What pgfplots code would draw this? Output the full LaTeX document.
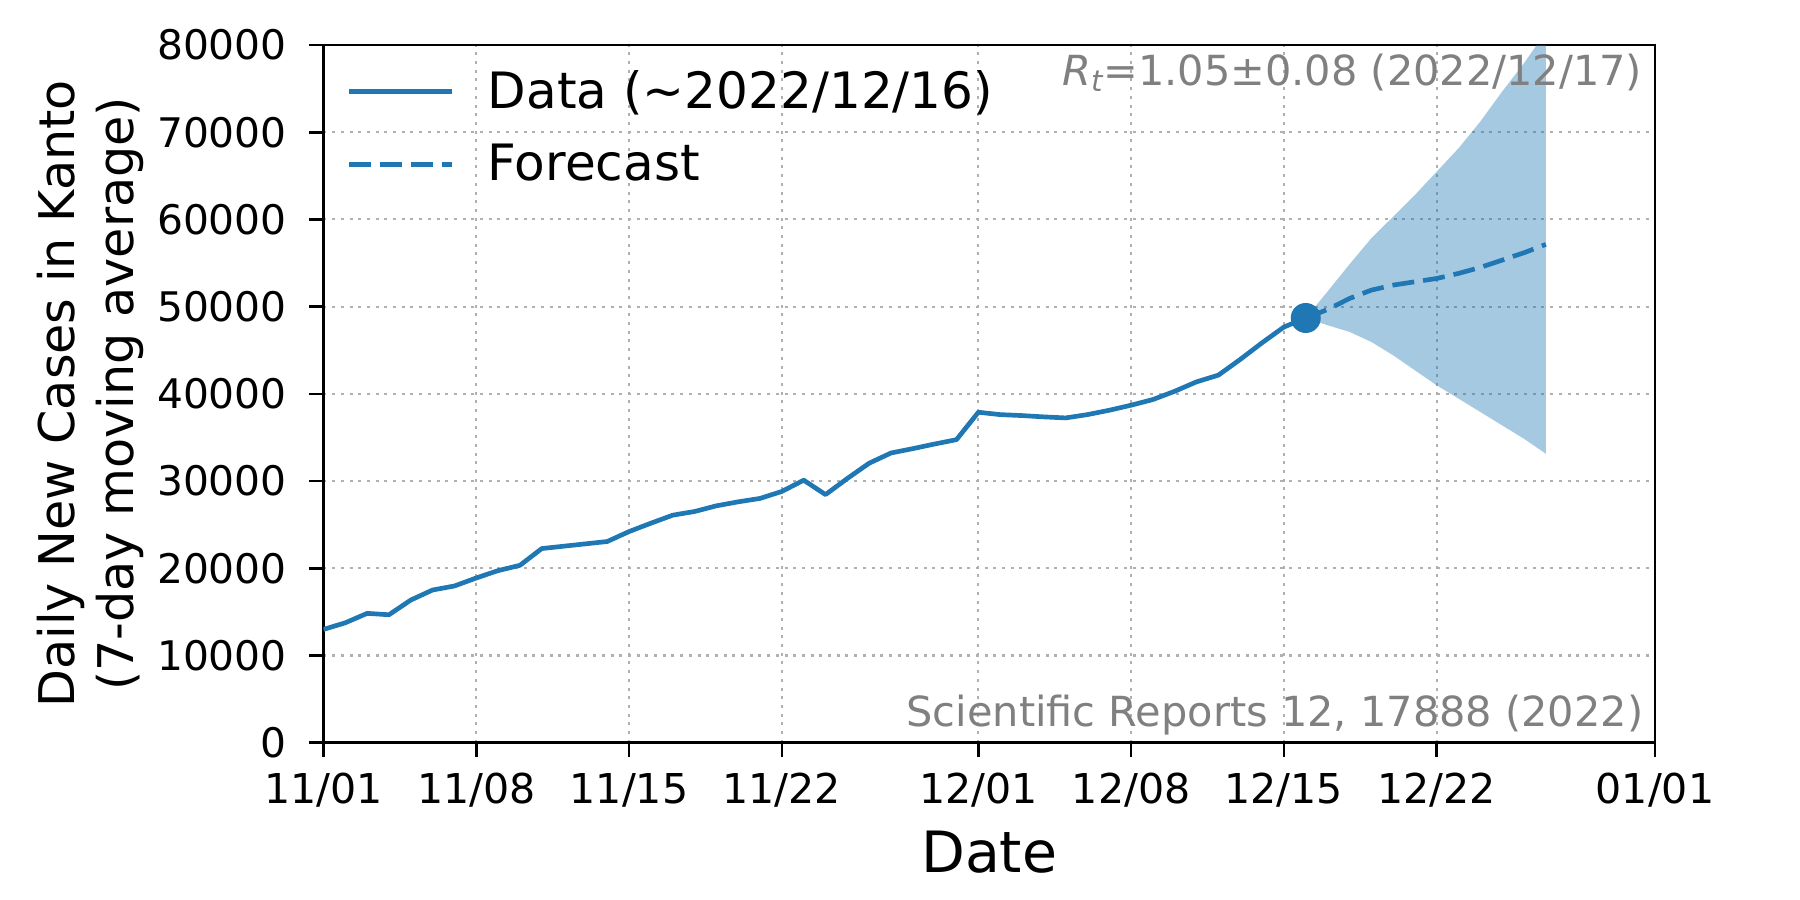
\documentclass[border=0pt]{standalone}
\usepackage{fontspec}
\setmainfont{DejaVu Sans}
\usepackage{pgfplots}
\pgfplotsset{compat=1.18}
\definecolor{tabblue}{HTML}{1F77B4}
\definecolor{gridgray}{RGB}{176,176,176}
\definecolor{annot}{RGB}{128,128,128}
\begin{document}
\begin{tikzpicture}
\useasboundingbox (-3.235cm,-1.573cm) rectangle (14.765cm,7.427cm);
\begin{axis}[
  scale only axis,
  width=13.315cm, height=6.977cm,
  xmin=0, xmax=61, ymin=0, ymax=80000,
  scaled y ticks=false,
  xtick={0,7,14,21,30,37,44,51,61},
  xticklabels={11/01,11/08,11/15,11/22,12/01,12/08,12/15,12/22,01/01},
  ytick={0,10000,20000,30000,40000,50000,60000,70000,80000},
  yticklabels={0,10000,20000,30000,40000,50000,60000,70000,80000},
  xtick pos=bottom, ytick pos=left,
  tick align=outside,
  major tick length=1.4mm,
  tick style={black, line width=0.77pt},
  axis line style={black, line width=0.77pt},
  grid=major,
  major grid style={gridgray, line width=0.6pt, dash pattern=on 0.3mm off 0.57mm},
  xticklabel style={font=\fontsize{11.7}{14}\selectfont, anchor=base, inner sep=0pt, yshift=-4.7mm},
  yticklabel style={font=\fontsize{11.6}{14}\selectfont, anchor=east, inner sep=0pt, xshift=-2.2mm},
  xlabel={Date},
  xlabel style={font=\fontsize{16.2}{19}\selectfont, at={(rel axis cs:0.5,0)}, anchor=base, yshift=-12.98mm},
  ylabel={Daily New Cases in Kanto\\(7-day moving average)},
  ylabel style={font=\fontsize{14}{16.8}\selectfont, align=center, at={(rel axis cs:0,0.5)}, anchor=center, rotate=0, yshift=23.35mm},
  legend style={at={(rel axis cs:0,1)}, anchor=north west, xshift=2.25mm, yshift=-1.73mm, draw=none, fill=none,
    font=\fontsize{14.25}{17}\selectfont, row sep=1.63mm, column sep=2.65mm, inner sep=0pt},
  legend cell align=left,
  legend image code/.code={\draw[#1] (0cm,0cm) -- (1.03cm,0cm);},
]
% forecast band
\addplot[draw=none, fill=tabblue, fill opacity=0.4, forget plot] coordinates {
(45,48700) (46,51740) (47,54840) (48,57830) (49,60310) (50,62800) (51,65480) (52,68160) (53,71230) (54,74670) (55,77920) (56,81500)
(56,33130) (55,34850) (54,36380) (53,37920) (52,39450) (51,40980) (50,42700) (49,44430) (48,45960) (47,47110) (46,47870) (45,48700)
} -- cycle;
% data
\addplot[tabblue, line width=1.33pt, line join=round] coordinates {
(0,12990) (1,13750) (2,14830) (3,14670) (4,16360) (5,17510) (6,17970) (7,18890) (8,19730) (9,20340)
(10,22260) (11,22530) (12,22800) (13,23070) (14,24210) (15,25170) (16,26090) (17,26510) (18,27160) (19,27620)
(20,28010) (21,28810) (22,30100) (23,28450) (24,30300) (25,32050) (26,33220) (27,33720) (28,34250) (29,34750)
(30,37890) (31,37620) (32,37510) (33,37360) (34,37240) (35,37620) (36,38120) (37,38700) (38,39350) (39,40300)
(40,41380) (41,42150) (42,43950) (43,45860) (44,47660) (45,48700)
};
\addlegendentry{Data (\textasciitilde 2022/12/16)}
% forecast
\addplot[tabblue, line width=1.33pt, dash pattern=on 2.2mm off 0.9mm] coordinates {
(45,48700) (46,49670) (47,50930) (48,51890) (49,52470) (50,52850) (51,53230) (52,53810) (53,54500) (54,55340) (55,56180) (56,57140)
};
\addlegendentry{Forecast}
% last data point
\addplot[only marks, mark=*, mark size=1.43mm, mark options={fill=tabblue, draw=tabblue}, forget plot] coordinates {(45,48700)};
\node[anchor=base east, inner sep=0pt, text=annot, font=\fontsize{11.8}{14}\selectfont] at (rel axis cs:1,1) [xshift=-1.2mm, yshift=-4.0mm]
  {\textit{R}\raisebox{-0.3ex}{\fontsize{8.3}{10}\selectfont\textit{t}}=1.05±0.08 (2022/12/17)};
\node[anchor=base east, inner sep=0pt, text=annot, font=\fontsize{11.8}{14}\selectfont] at (rel axis cs:1,0) [xshift=-1.1mm, yshift=1.6mm]
  {Scientific Reports 12, 17888 (2022)};
\end{axis}
\end{tikzpicture}
\end{document}
